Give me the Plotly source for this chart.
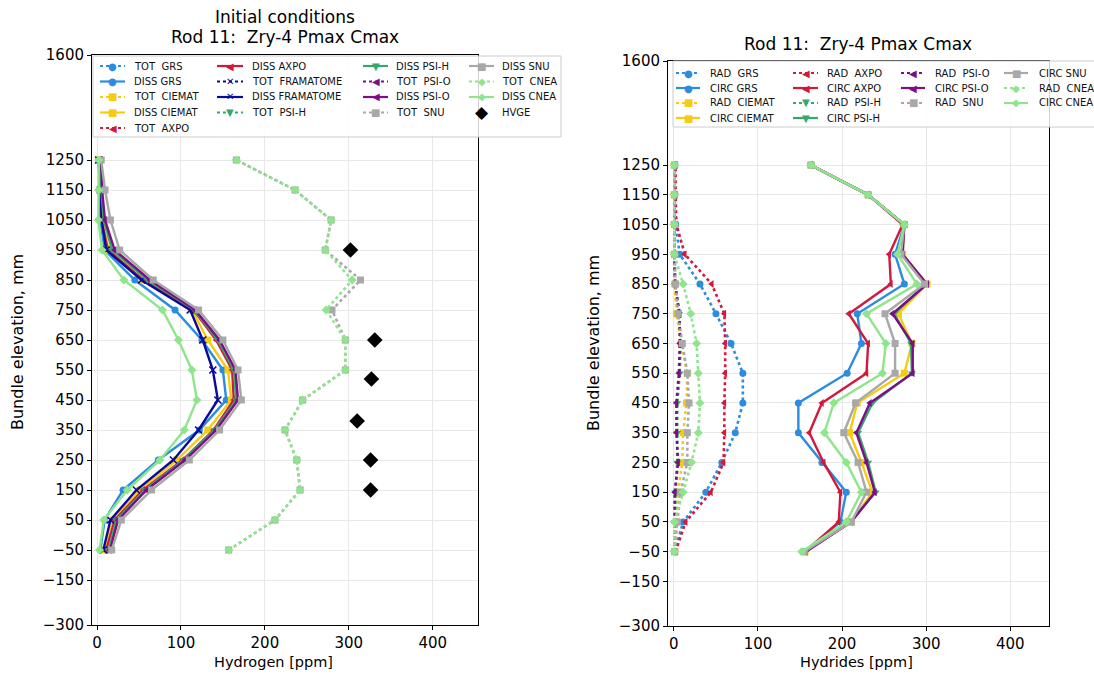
import plotly.graph_objects as go

# ---------------- data ----------------
ELEV = [-50, 50, 150, 250, 350, 450, 550, 650, 750, 850, 950, 1050, 1150, 1250]

# Left panel: hydrogen [ppm]
DISS_GRS = [4, 9, 31, 73, 122, 154, 150, 125, 93, 45, 9, 4, 3, 2]
DISS_CIEMAT = [9.5, 19, 51, 95, 132, 160, 156, 132, 113, 55, 14, 6, 4, 3]
DISS_AXPO = [11, 21, 55, 102, 139, 163, 161, 142, 115, 55, 13, 5, 4, 3]
DISS_FRAMATOME = [7.5, 16, 47, 91, 121, 144, 138, 126, 111, 53, 11, 5.5, 4, 2]
DISS_PSIH = [14, 23, 57, 103, 140, 166, 163, 144, 116, 60, 18, 8, 5, 4]
DISS_PSIO = [15.5, 25, 59, 105, 142, 168, 165, 146, 117, 63, 21, 9.5, 6, 5]
DISS_SNU = [17.5, 29, 65, 110, 146, 172, 168, 150, 121, 67, 27, 16, 9.5, 5]
DISS_CNEA = [3, 8, 36, 75, 104, 119, 113, 97, 78, 32, 6, 1.5, 2, 2]
TOT_SNU = [157, 212, 242, 238, 224, 245, 296, 296, 280, 314, 272, 279, 236, 166]
TOT_CNEA = [157, 212, 242, 238, 224, 245, 296, 296, 273, 304, 272, 279, 236, 166]
HVGE_ELEV = [150, 250, 380, 520, 650, 950]
HVGE = [326, 326, 310, 327, 331, 302]

# Right panel: hydrides [ppm]
RAD_GRS = [1, 11, 38, 57, 73, 82, 82, 68, 50, 31, 7, 2, 1, 1]
CIRC_GRS = [155, 198, 205, 176, 148, 148, 206, 223, 218, 274, 263, 274, 231, 163]
RAD_CIEMAT = [1, 3, 5, 10, 11, 15, 16, 9, 3, 1, 0.5, 0.5, 0.5, 0.5]
CIRC_CIEMAT = [156, 211, 236, 223, 209, 218, 274, 283, 267, 301, 272, 274, 231, 163]
RAD_AXPO = [2, 14, 44, 59, 60, 60, 61, 61, 60, 45, 13, 3, 2, 2]
CIRC_AXPO = [156, 196, 198, 178, 161, 176, 229, 231, 208, 258, 256, 272, 231, 163]
RAD_PSIH = [0.5, 1, 2, 4, 4, 4, 7, 8, 6, 2, 0.5, 0.5, 0.5, 0.5]
CIRC_PSIH = [157, 210, 240, 231, 219, 236, 283, 282, 262, 300, 271, 274, 231, 163]
RAD_PSIO = [0.5, 1, 1, 5, 3, 3, 6, 7, 7, 1, 0.5, 0.5, 0.5, 0.5]
CIRC_PSIO = [157, 211, 239, 229, 217, 233, 284, 284, 260, 301, 272, 274, 231, 163]
RAD_SNU = [1, 4, 8, 16, 16, 18, 16, 10, 5, 2, 1, 1, 1, 1]
CIRC_SNU = [155, 211, 229, 219, 202, 216, 263, 263, 251, 298, 270, 274, 231, 163]
RAD_CNEA = [0.5, 0.5, 11, 21, 29, 31, 29, 27, 20, 11, 0.5, 0.5, 0.5, 0.5]
CIRC_CNEA = [152, 205, 223, 205, 179, 190, 248, 252, 229, 289, 266, 274, 231, 163]

Y_TICKS = [-300, -150, -50, 50, 150, 250, 350, 450, 550, 650, 750, 850, 950, 1050, 1150, 1250, 1600]
X_TICKS = [0, 100, 200, 300, 400]

# ---------------- style ----------------
COL = {
    "GRS": "#2b8ce0", "CIEMAT": "#f5cc12", "AXPO": "#d1193e", "FRAMATOME": "#0a0a9a",
    "PSI-H": "#35a86c", "PSI-O": "#7c0f86", "SNU": "#a8a8a8", "CNEA": "#8fe58c",
}
SYM = {
    "GRS": "circle", "CIEMAT": "square", "AXPO": "triangle-left", "FRAMATOME": "x-thin",
    "PSI-H": "triangle-down", "PSI-O": "triangle-left", "SNU": "square", "CNEA": "diamond",
}
GLYPH = {
    "GRS": "\u25cf", "CIEMAT": "\u25a0", "AXPO": "\u25c0", "FRAMATOME": "\u2715",
    "PSI-H": "\u25bc", "PSI-O": "\u25c0", "SNU": "\u25a0", "CNEA": "\u25c6",
}

W, H = 1094, 682
FONT = "DejaVu Sans"


def px(x):
    return x / W


def py(y):
    return 1 - y / H


fig = go.Figure()


def add_series(x, y, lab, dotted, xa, ya):
    m = dict(symbol=SYM[lab], size=7, color=COL[lab])
    if SYM[lab] == "x-thin":
        m["line"] = dict(width=1.6, color=COL[lab])
    fig.add_trace(go.Scatter(
        x=x, y=y, mode="lines+markers", xaxis=xa, yaxis=ya, showlegend=False,
        line=dict(color=COL[lab], width=2.6 if dotted else 2.4, dash="dot" if dotted else "solid"),
        marker=m,
    ))


# left panel traces (order as in the original)
add_series(DISS_GRS, ELEV, "GRS", False, "x", "y")
add_series(DISS_CIEMAT, ELEV, "CIEMAT", False, "x", "y")
add_series(DISS_AXPO, ELEV, "AXPO", False, "x", "y")
add_series(DISS_FRAMATOME, ELEV, "FRAMATOME", False, "x", "y")
add_series(DISS_PSIH, ELEV, "PSI-H", False, "x", "y")
add_series(DISS_PSIO, ELEV, "PSI-O", False, "x", "y")
add_series(TOT_SNU, ELEV, "SNU", True, "x", "y")
add_series(DISS_SNU, ELEV, "SNU", False, "x", "y")
add_series(TOT_CNEA, ELEV, "CNEA", True, "x", "y")
add_series(DISS_CNEA, ELEV, "CNEA", False, "x", "y")
fig.add_trace(go.Scatter(x=HVGE, y=HVGE_ELEV, mode="markers", xaxis="x", yaxis="y", showlegend=False,
                         marker=dict(symbol="diamond", size=12, color="black")))

# right panel traces
add_series(RAD_GRS, ELEV, "GRS", True, "x2", "y2")
add_series(CIRC_GRS, ELEV, "GRS", False, "x2", "y2")
add_series(RAD_CIEMAT, ELEV, "CIEMAT", True, "x2", "y2")
add_series(CIRC_CIEMAT, ELEV, "CIEMAT", False, "x2", "y2")
add_series(RAD_AXPO, ELEV, "AXPO", True, "x2", "y2")
add_series(CIRC_AXPO, ELEV, "AXPO", False, "x2", "y2")
add_series(RAD_PSIH, ELEV, "PSI-H", True, "x2", "y2")
add_series(CIRC_PSIH, ELEV, "PSI-H", False, "x2", "y2")
add_series(RAD_PSIO, ELEV, "PSI-O", True, "x2", "y2")
add_series(CIRC_PSIO, ELEV, "PSI-O", False, "x2", "y2")
add_series(RAD_SNU, ELEV, "SNU", True, "x2", "y2")
add_series(CIRC_SNU, ELEV, "SNU", False, "x2", "y2")
add_series(RAD_CNEA, ELEV, "CNEA", True, "x2", "y2")
add_series(CIRC_CNEA, ELEV, "CNEA", False, "x2", "y2")

axis_common = dict(
    showline=True, linecolor="black", linewidth=1, mirror=True,
    ticks="outside", ticklen=4, tickcolor="black",
    showgrid=True, gridcolor="#e8e8e8", gridwidth=1, zeroline=False,
    tickfont=dict(family=FONT, size=15, color="black"),
    automargin=False,
)

fig.update_layout(
    width=W, height=H,
    margin=dict(l=0, r=0, t=0, b=0),
    paper_bgcolor="white", plot_bgcolor="white",
    font=dict(family=FONT, color="black"),
    xaxis=dict(domain=[px(92), px(478)], range=[-6, 454], tickvals=X_TICKS, anchor="y", **axis_common),
    yaxis=dict(domain=[py(625), py(55)], range=[-300, 1600], tickvals=Y_TICKS, anchor="x", **axis_common),
    xaxis2=dict(domain=[px(668), px(1049)], range=[-7, 446], tickvals=X_TICKS, anchor="y2", **axis_common),
    yaxis2=dict(domain=[py(626), py(61)], range=[-300, 1600], tickvals=Y_TICKS, anchor="x2", **axis_common),
)

ann = []
# titles and axis titles
ann.append(dict(text="Initial conditions", x=px(285), y=py(17), xref="paper", yref="paper",
                showarrow=False, font=dict(size=17), xanchor="center", yanchor="middle"))
ann.append(dict(text="Rod 11:  Zry-4 Pmax Cmax", x=px(285), y=py(37), xref="paper", yref="paper",
                showarrow=False, font=dict(size=17), xanchor="center", yanchor="middle"))
ann.append(dict(text="Rod 11:  Zry-4 Pmax Cmax", x=px(858), y=py(44), xref="paper", yref="paper",
                showarrow=False, font=dict(size=17), xanchor="center", yanchor="middle"))
ann.append(dict(text="Hydrogen [ppm]", x=px(273), y=py(662), xref="paper", yref="paper",
                showarrow=False, font=dict(size=14.5), xanchor="center", yanchor="middle"))
ann.append(dict(text="Hydrides [ppm]", x=px(856), y=py(662), xref="paper", yref="paper",
                showarrow=False, font=dict(size=14.5), xanchor="center", yanchor="middle"))
ann.append(dict(text="Bundle elevation, mm", x=px(17), y=py(342), xref="paper", yref="paper",
                showarrow=False, font=dict(size=16), textangle=-90, xanchor="center", yanchor="middle"))
ann.append(dict(text="Bundle elevation, mm", x=px(593), y=py(343), xref="paper", yref="paper",
                showarrow=False, font=dict(size=16), textangle=-90, xanchor="center", yanchor="middle"))

shapes = []

# ---------------- legends (matplotlib-like, column-major) ----------------
LEFT_LEGEND = [
    # (col, row, label, lab, dotted)
    (0, 0, "TOT  GRS", "GRS", True), (0, 1, "DISS GRS", "GRS", False),
    (0, 2, "TOT  CIEMAT", "CIEMAT", True), (0, 3, "DISS CIEMAT", "CIEMAT", False),
    (0, 4, "TOT  AXPO", "AXPO", True),
    (1, 0, "DISS AXPO", "AXPO", False), (1, 1, "TOT  FRAMATOME", "FRAMATOME", True),
    (1, 2, "DISS FRAMATOME", "FRAMATOME", False), (1, 3, "TOT  PSI-H", "PSI-H", True),
    (2, 0, "DISS PSI-H", "PSI-H", False), (2, 1, "TOT  PSI-O", "PSI-O", True),
    (2, 2, "DISS PSI-O", "PSI-O", False), (2, 3, "TOT  SNU", "SNU", True),
    (3, 0, "DISS SNU", "SNU", False), (3, 1, "TOT  CNEA", "CNEA", True),
    (3, 2, "DISS CNEA", "CNEA", False), (3, 3, "HVGE", "HVGE", None),
]
RIGHT_LEGEND = [
    (0, 0, "RAD  GRS", "GRS", True), (0, 1, "CIRC GRS", "GRS", False),
    (0, 2, "RAD  CIEMAT", "CIEMAT", True), (0, 3, "CIRC CIEMAT", "CIEMAT", False),
    (1, 0, "RAD  AXPO", "AXPO", True), (1, 1, "CIRC AXPO", "AXPO", False),
    (1, 2, "RAD  PSI-H", "PSI-H", True), (1, 3, "CIRC PSI-H", "PSI-H", False),
    (2, 0, "RAD  PSI-O", "PSI-O", True), (2, 1, "CIRC PSI-O", "PSI-O", False),
    (2, 2, "RAD  SNU", "SNU", True),
    (3, 0, "CIRC SNU", "SNU", False), (3, 1, "RAD  CNEA", "CNEA", True),
    (3, 2, "CIRC CNEA", "CNEA", False),
]


def draw_legend(entries, box, cols_x, row0, dy):
    x0, y0, x1, y1 = box
    shapes.append(dict(type="rect", xref="paper", yref="paper", x0=px(x0), x1=px(x1), y0=py(y1), y1=py(y0),
                       fillcolor="rgba(255,255,255,0.82)", line=dict(color="#cccccc", width=1), layer="above"))
    for col, row, label, lab, dotted in entries:
        hx0, hx1, tx = cols_x[col]
        yy = row0 + row * dy
        hc = (hx0 + hx1) / 2
        if lab == "HVGE":
            ann.append(dict(text="\u25c6", x=px(hc), y=py(yy), xref="paper", yref="paper", showarrow=False,
                            font=dict(size=17, color="black"), xanchor="center", yanchor="middle"))
        else:
            shapes.append(dict(type="line", xref="paper", yref="paper", x0=px(hx0), x1=px(hx1), y0=py(yy), y1=py(yy),
                               line=dict(color=COL[lab], width=2.2, dash="dot" if dotted else "solid"), layer="above"))
            ann.append(dict(text=GLYPH[lab], x=px(hc), y=py(yy), xref="paper", yref="paper", showarrow=False,
                            font=dict(size=10, color=COL[lab]), xanchor="center", yanchor="middle"))
        ann.append(dict(text=label, x=px(tx), y=py(yy), xref="paper", yref="paper", showarrow=False,
                        font=dict(size=10, color="#111111"), xanchor="left", yanchor="middle"))


draw_legend(LEFT_LEGEND, (93, 56, 561, 137),
            [(100, 125, 132), (217, 243, 250), (363, 388, 394), (469, 494, 500)], 66, 15.5)
draw_legend(RIGHT_LEGEND, (673, 61, 1100, 127),
            [(676, 700, 708), (793, 818, 825), (901, 925, 933), (1004, 1028, 1037)], 73, 15)

fig.update_layout(annotations=ann, shapes=shapes)

fig.write_html("out.html")
